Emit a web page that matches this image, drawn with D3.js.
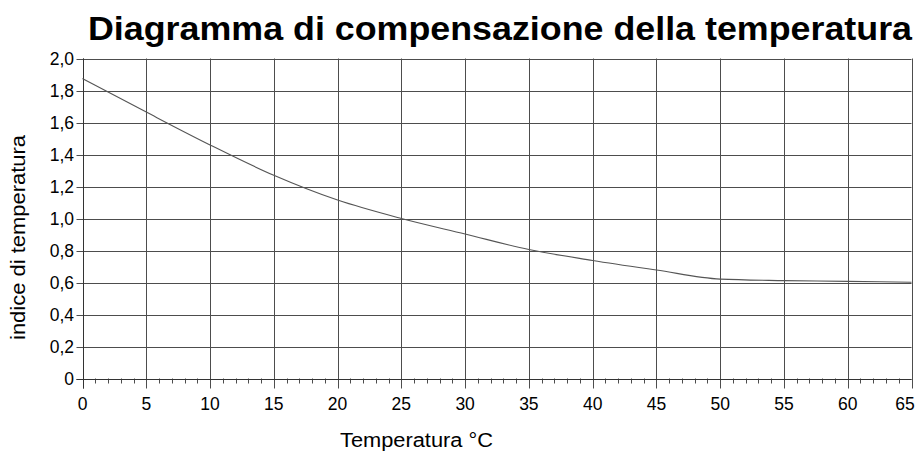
<!DOCTYPE html>
<html>
<head>
<meta charset="utf-8">
<script src="https://cdn.jsdelivr.net/npm/d3@7"></script>
<style>
  html, body { margin: 0; padding: 0; background: #fff; }
  svg { display: block; }
  text { font-family: "Liberation Sans", Arial, sans-serif; fill: #000; }
</style>
</head>
<body>
<svg id="chart" width="918" height="452"></svg>
<script>
// ---- data ----
const temperatures = [0, 5, 10, 15, 20, 25, 30, 35, 40, 45, 50, 55, 60, 65];
const indexValues  = [1.875, 1.665, 1.46, 1.27, 1.115, 1.0, 0.903, 0.806, 0.738, 0.678, 0.621, 0.612, 0.607, 0.602];
const xTicks = [0, 5, 10, 15, 20, 25, 30, 35, 40, 45, 50, 55, 60, 65];
const xMinorTicks = d3.range(0, 66, 1);
const yTicks = [0, 0.2, 0.4, 0.6, 0.8, 1.0, 1.2, 1.4, 1.6, 1.8, 2.0];
const yTickLabels = ["0", "0,2", "0,4", "0,6", "0,8", "1,0", "1,2", "1,4", "1,6", "1,8", "2,0"];
const titleText = "Diagramma di compensazione della temperatura";
const xTitle = "Temperatura °C";
const yTitle = "indice di temperatura";

const svg = d3.select("#chart");
const x = d3.scaleLinear().domain([0, 65]).range([82.5, 911.5]);
const y = d3.scaleLinear().domain([0, 2]).range([378.5, 58.5]);

const gridColor = "#4d4d4d";

// grid
const g = svg.append("g");
g.selectAll(".vgrid").data(xTicks).join("line")
  .attr("x1", d => Math.round(x(d)) + 0.5).attr("x2", d => Math.round(x(d)) + 0.5)
  .attr("y1", y(2)).attr("y2", y(0) + 10)
  .attr("stroke", gridColor).attr("stroke-width", 1);
g.selectAll(".hgrid").data(yTicks).join("line")
  .attr("x1", x(0) - 6).attr("x2", x(65))
  .attr("y1", d => Math.round(y(d)) + 0.5).attr("y2", d => Math.round(y(d)) + 0.5)
  .attr("stroke", gridColor).attr("stroke-width", 1);

// minor ticks
g.selectAll(".minor").data(xMinorTicks.filter(d => d % 5 !== 0)).join("line")
  .attr("x1", d => Math.round(x(d)) + 0.5).attr("x2", d => Math.round(x(d)) + 0.5)
  .attr("y1", y(0)).attr("y2", y(0) + 5)
  .attr("stroke", gridColor).attr("stroke-width", 1);

// axis lines
g.append("line").attr("x1", Math.round(x(0)) + 0.5).attr("x2", Math.round(x(0)) + 0.5)
  .attr("y1", y(2)).attr("y2", y(0) + 10).attr("stroke", "#333");
g.append("line").attr("x1", x(0) - 6).attr("x2", x(65))
  .attr("y1", Math.round(y(0)) + 0.5).attr("y2", Math.round(y(0)) + 0.5).attr("stroke", "#333");

// tick labels
svg.selectAll(".ylab").data(yTicks).join("text")
  .attr("x", 74).attr("y", d => y(d) + 6)
  .attr("text-anchor", "end").attr("font-size", 17.5)
  .text((d, i) => yTickLabels[i]);
svg.selectAll(".xlab").data(xTicks).join("text")
  .attr("x", d => Math.min(x(d), 905)).attr("y", 409.5)
  .attr("text-anchor", "middle").attr("font-size", 17.5)
  .text(d => d);

// line
const line = d3.line().x(d => x(d[0])).y(d => y(d[1])).curve(d3.curveMonotoneX);
svg.append("path")
  .datum(temperatures.map((t, i) => [t, indexValues[i]]))
  .attr("d", line).attr("fill", "none")
  .attr("stroke", "#555").attr("stroke-width", 1.1);

// titles
svg.append("text").attr("x", 88).attr("y", 40)
  .attr("font-size", 33).attr("font-weight", "bold")
  .attr("textLength", 824).attr("lengthAdjust", "spacingAndGlyphs")
  .text(titleText);
svg.append("text").attr("x", 340).attr("y", 447)
  .attr("font-size", 20)
  .attr("textLength", 153).attr("lengthAdjust", "spacingAndGlyphs")
  .text(xTitle);
svg.append("text")
  .attr("transform", "translate(25,340) rotate(-90)")
  .attr("font-size", 20.5)
  .attr("textLength", 205).attr("lengthAdjust", "spacingAndGlyphs")
  .text(yTitle);
</script>
</body>
</html>
